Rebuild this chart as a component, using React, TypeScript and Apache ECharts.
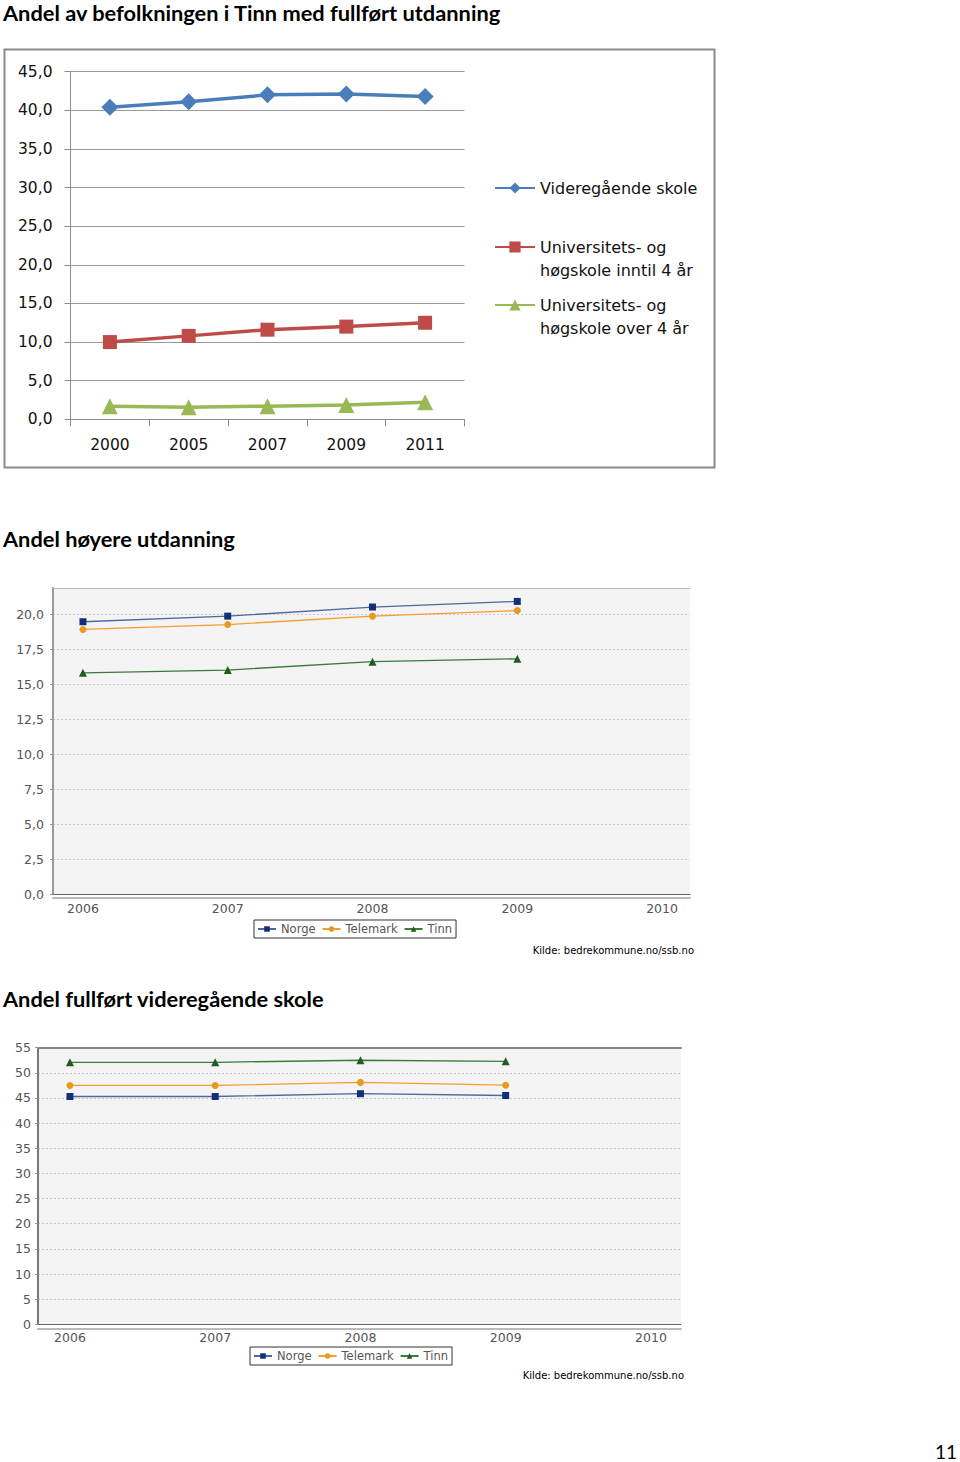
import React, { useEffect, useRef } from "react";
import * as echarts from "echarts";

// Chart 1: Andel av befolkningen i Tinn med fullført utdanning
const years1 = ["2000", "2005", "2007", "2009", "2011"];
const vgs1 = [40.4, 41.1, 42.0, 42.1, 41.8];
const uniShort1 = [10.0, 10.8, 11.6, 12.0, 12.5];
const uniLong1 = [1.7, 1.55, 1.7, 1.85, 2.2];
const names1 = [
  "Videregående skole",
  "Universitets- og\nhøgskole inntil 4 år",
  "Universitets- og\nhøgskole over 4 år",
];

// Chart 2: Andel høyere utdanning
const years2 = [2006, 2007, 2008, 2009];
const norge2 = [19.45, 19.85, 20.5, 20.9];
const telemark2 = [18.9, 19.25, 19.85, 20.25];
const tinn2 = [15.8, 16.0, 16.6, 16.8];

// Chart 3: Andel fullført videregående skole
const norge3 = [45.3, 45.3, 45.85, 45.5];
const telemark3 = [47.5, 47.5, 48.1, 47.55];
const tinn3 = [52.1, 52.1, 52.5, 52.3];

const xTicks = [2006, 2007, 2008, 2009, 2010];
const names2 = ["Norge", "Telemark", "Tinn"];
const source = "Kilde: bedrekommune.no/ssb.no";

const titleFont = "Lato, 'Liberation Sans', sans-serif";
const sans = "'DejaVu Sans', sans-serif";

function pairs(xs: number[], ys: number[]) {
  return xs.map((x, i) => [x, ys[i]]);
}

export default function App() {
  const ref = useRef<HTMLDivElement>(null);
  useEffect(() => {
    if (!ref.current) return;
    const chart = echarts.init(ref.current, null, { renderer: "svg" });

    const comma1 = (v: number) => v.toFixed(1).replace(".", ",");

    const smallAxisCommon = (gridIndex: number, min: number, max: number, labelMargin: number) => [
      {
        type: "value",
        gridIndex,
        min,
        max,
        position: "bottom",
        axisLine: { show: true, lineStyle: { color: "#666", width: 1 } },
        axisTick: { show: false },
        splitLine: { show: false },
        axisLabel: {
          customValues: xTicks,
          margin: labelMargin,
          color: "#555",
          fontFamily: sans,
          fontSize: 12.5,
          formatter: (v: number) => String(v),
        },
      },
      {
        type: "value",
        gridIndex,
        min,
        max,
        position: "bottom",
        offset: 4,
        axisLine: { show: true, lineStyle: { color: "#bbb", width: 2 } },
        axisTick: { show: false },
        axisLabel: { show: false },
        splitLine: { show: false },
      },
    ];

    const legend1Common = {
      left: 494,
      orient: "vertical",
      itemWidth: 40,
      itemHeight: 14,
      padding: 0,
      textStyle: { fontFamily: sans, fontSize: 16, color: "#111", lineHeight: 23 },
    };

    const titleStyle = { fontFamily: titleFont, fontWeight: "bold", fontSize: 21.8, color: "#000", lineHeight: 25 };

    const option: any = {
      animation: false,
      backgroundColor: "#fff",
      title: [
        {
          text: "Andel av befolkningen i Tinn med fullført utdanning",
          left: 3,
          top: 0,
          padding: 0,
          textStyle: titleStyle,
        },
        {
          text: "Andel høyere utdanning",
          left: 3,
          top: 525.5,
          padding: 0,
          textStyle: titleStyle,
        },
        {
          text: "Andel fullført videregående skole",
          left: 3,
          top: 985.5,
          padding: 0,
          textStyle: titleStyle,
        },
        {
          text: "11",
          right: 3,
          top: 1441,
          padding: 0,
          textStyle: { fontFamily: titleFont, fontWeight: "normal", fontSize: 19, color: "#000", lineHeight: 20 },
        },
        {
          text: source,
          right: 266,
          top: 945,
          padding: 0,
          textStyle: { fontFamily: sans, fontWeight: "normal", fontSize: 10, color: "#000" },
        },
        {
          text: source,
          right: 276,
          top: 1370,
          padding: 0,
          textStyle: { fontFamily: sans, fontWeight: "normal", fontSize: 10, color: "#000" },
        },
      ],
      graphic: [
        {
          type: "rect",
          shape: { x: 4.5, y: 49.5, width: 710, height: 418 },
          style: { fill: "none", stroke: "#8a8a8a", lineWidth: 2 },
          z: -1,
        },
      ],
      legend: [
        { ...legend1Common, data: [names1[0]], top: 176.5 },
        {
          ...legend1Common,
          data: [names1[1]],
          top: 212.5,
          formatter: (n: string) => "\u00a0\n" + n,
        },
        {
          ...legend1Common,
          data: [names1[2]],
          top: 270.5,
          formatter: (n: string) => "\u00a0\n" + n,
        },
        {
          data: names2.map((n) => ({ name: n })),
          left: 254,
          top: 920,
          itemWidth: 18,
          itemHeight: 7,
          itemGap: 6,
          padding: [3, 4, 3, 3],
          borderColor: "#333",
          borderWidth: 1,
          textStyle: { fontFamily: sans, fontSize: 11.5, color: "#555" },
        },
        {
          data: names2.map((n) => ({ name: n })),
          left: 250,
          top: 1347,
          itemWidth: 18,
          itemHeight: 7,
          itemGap: 6,
          padding: [3, 4, 3, 3],
          borderColor: "#333",
          borderWidth: 1,
          textStyle: { fontFamily: sans, fontSize: 11.5, color: "#555" },
        },
      ],
      grid: [
        { left: 70.5, top: 71.7, width: 394, height: 347.6 },
        {
          left: 53,
          top: 588,
          width: 637,
          height: 306,
          show: true,
          backgroundColor: "#f4f4f4",
          borderWidth: 0,
        },
        {
          left: 38,
          top: 1047.7,
          width: 643,
          height: 276.6,
          show: true,
          backgroundColor: "#f4f4f4",
          borderWidth: 0,
        },
      ],
      xAxis: [
        {
          type: "category",
          gridIndex: 0,
          data: years1,
          boundaryGap: true,
          axisLine: { lineStyle: { color: "#8c8c8c", width: 1 } },
          axisTick: { show: true, length: 7, alignWithLabel: false, lineStyle: { color: "#8c8c8c" } },
          axisLabel: { margin: 18, fontFamily: sans, fontSize: 15.5, color: "#111" },
        },
        ...smallAxisCommon(1, 2005.793, 2010.193, 8),
        {
          type: "value",
          gridIndex: 1,
          min: 2005.793,
          max: 2010.193,
          position: "top",
          axisLine: { show: true, lineStyle: { color: "#bbb", width: 1 } },
          axisTick: { show: false },
          axisLabel: { show: false },
          splitLine: { show: false },
        },
        ...smallAxisCommon(2, 2005.78, 2010.207, 7),
        {
          type: "value",
          gridIndex: 2,
          min: 2005.78,
          max: 2010.207,
          position: "top",
          axisLine: { show: true, lineStyle: { color: "#888", width: 2 } },
          axisTick: { show: false },
          axisLabel: { show: false },
          splitLine: { show: false },
        },
      ],
      yAxis: [
        {
          type: "value",
          gridIndex: 0,
          min: 0,
          max: 45,
          interval: 5,
          axisLine: { show: true, lineStyle: { color: "#8c8c8c" } },
          axisTick: { show: true, length: 6, lineStyle: { color: "#8c8c8c" } },
          splitLine: { lineStyle: { color: "#9a9a9a", width: 1 } },
          axisLabel: {
            margin: 18,
            fontFamily: sans,
            fontSize: 15.5,
            color: "#111",
            formatter: comma1,
          },
        },
        {
          type: "value",
          gridIndex: 1,
          min: 0,
          max: 21.86,
          interval: 2.5,
          axisLine: { show: true, lineStyle: { color: "#999", width: 2 } },
          axisTick: { show: true, length: 3, lineStyle: { color: "#999" } },
          splitLine: { lineStyle: { color: "#c8c8c8", type: [2, 2], width: 1 } },
          axisLabel: {
            margin: 9,
            fontFamily: sans,
            fontSize: 12.5,
            color: "#555",
            showMaxLabel: false,
            formatter: comma1,
          },
        },
        {
          type: "value",
          gridIndex: 2,
          min: 0,
          max: 55,
          interval: 5,
          axisLine: { show: true, lineStyle: { color: "#777", width: 2 } },
          axisTick: { show: true, length: 3, lineStyle: { color: "#999" } },
          splitLine: { lineStyle: { color: "#c8c8c8", type: [2, 2], width: 1 } },
          axisLabel: {
            margin: 7,
            fontFamily: sans,
            fontSize: 12.5,
            color: "#555",
          },
        },
      ],
      series: [
        {
          name: names1[0],
          type: "line",
          xAxisIndex: 0,
          yAxisIndex: 0,
          data: vgs1,
          symbol: "diamond",
          symbolSize: 17,
          lineStyle: { color: "#4a7ebb", width: 3.5 },
          itemStyle: { color: "#4a7ebb" },
        },
        {
          name: names1[1],
          type: "line",
          xAxisIndex: 0,
          yAxisIndex: 0,
          data: uniShort1,
          symbol: "rect",
          symbolSize: 14,
          lineStyle: { color: "#be4b48", width: 3.5 },
          itemStyle: { color: "#be4b48" },
        },
        {
          name: names1[2],
          type: "line",
          xAxisIndex: 0,
          yAxisIndex: 0,
          data: uniLong1,
          symbol: "triangle",
          symbolSize: 16,
          lineStyle: { color: "#98b954", width: 3.5 },
          itemStyle: { color: "#98b954" },
        },
        {
          name: names2[0],
          type: "line",
          xAxisIndex: 1,
          yAxisIndex: 1,
          data: pairs(years2, norge2),
          symbol: "rect",
          symbolSize: 7,
          lineStyle: { color: "#4d6a9c", width: 1.3 },
          itemStyle: { color: "#12307a" },
        },
        {
          name: names2[1],
          type: "line",
          xAxisIndex: 1,
          yAxisIndex: 1,
          data: pairs(years2, telemark2),
          symbol: "circle",
          symbolSize: 7,
          lineStyle: { color: "#f0a030", width: 1.3 },
          itemStyle: { color: "#e89a20" },
        },
        {
          name: names2[2],
          type: "line",
          xAxisIndex: 1,
          yAxisIndex: 1,
          data: pairs(years2, tinn2),
          symbol: "triangle",
          symbolSize: 8,
          lineStyle: { color: "#3d7a3d", width: 1.3 },
          itemStyle: { color: "#1d5e1d" },
        },
        {
          name: names2[0],
          type: "line",
          xAxisIndex: 4,
          yAxisIndex: 2,
          data: pairs(years2, norge3),
          symbol: "rect",
          symbolSize: 7,
          lineStyle: { color: "#4d6a9c", width: 1.3 },
          itemStyle: { color: "#12307a" },
        },
        {
          name: names2[1],
          type: "line",
          xAxisIndex: 4,
          yAxisIndex: 2,
          data: pairs(years2, telemark3),
          symbol: "circle",
          symbolSize: 7,
          lineStyle: { color: "#f0a030", width: 1.3 },
          itemStyle: { color: "#e89a20" },
        },
        {
          name: names2[2],
          type: "line",
          xAxisIndex: 4,
          yAxisIndex: 2,
          data: pairs(years2, tinn3),
          symbol: "triangle",
          symbolSize: 8,
          lineStyle: { color: "#3d7a3d", width: 1.3 },
          itemStyle: { color: "#1d5e1d" },
        },
      ],
    };

    chart.setOption(option);
    return () => chart.dispose();
  }, []);

  return (
    <div
      ref={ref}
      style={{ position: "absolute", left: 0, top: 0, width: 960, height: 1462 }}
    />
  );
}
